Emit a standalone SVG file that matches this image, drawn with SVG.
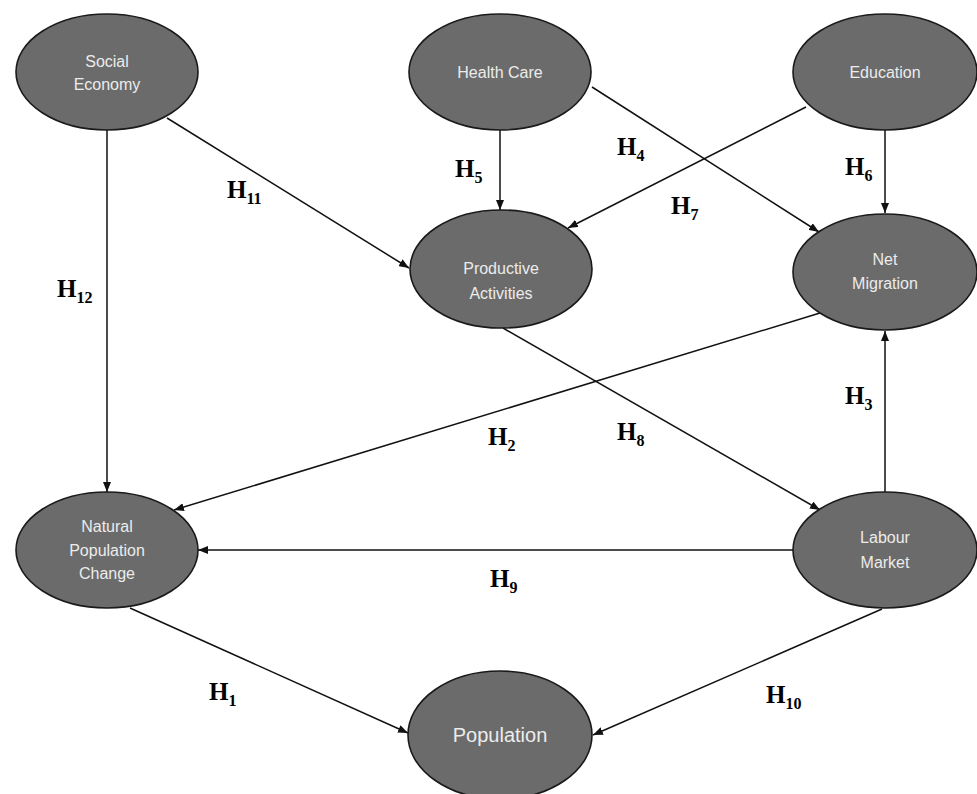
<svg xmlns="http://www.w3.org/2000/svg" width="977" height="794" viewBox="0 0 977 794">
<defs>
<marker id="ah" viewBox="0 0 10 8" refX="10" refY="4" markerWidth="10" markerHeight="8" markerUnits="userSpaceOnUse" orient="auto">
<path d="M0,0 L10,4 L0,8 z" fill="#111"/>
</marker>
<style>
.node{fill:#6b6b6b;stroke:#1a1a1a;stroke-width:1.6}
.nt{font-family:"Liberation Sans",Arial,sans-serif;font-size:16px;fill:#ececec;text-anchor:middle}
.pt{font-size:20px}
.c{stroke:#111;stroke-width:1.5;fill:none;marker-end:url(#ah)}
.h{font-family:"Liberation Serif","Times New Roman",serif;font-weight:bold;font-size:25px;fill:#000}
.s{font-size:16px}
</style>
</defs>
<rect width="977" height="794" fill="#fff"/>
<g id="connectors">
<line class="c" x1="107" y1="130" x2="107" y2="492"/>
<line class="c" x1="167" y1="118" x2="409" y2="268"/>
<line class="c" x1="500" y1="130" x2="500" y2="210"/>
<line class="c" x1="592" y1="87" x2="819" y2="232"/>
<line class="c" x1="806" y1="107" x2="568" y2="228"/>
<line class="c" x1="885" y1="130" x2="885" y2="213"/>
<line class="c" x1="820" y1="313" x2="174" y2="510"/>
<line class="c" x1="503" y1="328" x2="820" y2="510"/>
<line class="c" x1="885" y1="492" x2="885" y2="331"/>
<line class="c" x1="793" y1="550" x2="198" y2="550"/>
<line class="c" x1="130" y1="608" x2="408" y2="733"/>
<line class="c" x1="882" y1="609" x2="593" y2="735"/>
</g>
<g id="labels">
<text class="h" x="227" y="198">H<tspan class="s" dy="6">11</tspan></text>
<text class="h" x="57" y="297">H<tspan class="s" dy="6">12</tspan></text>
<text class="h" x="455" y="177">H<tspan class="s" dy="6">5</tspan></text>
<text class="h" x="617" y="155">H<tspan class="s" dy="6">4</tspan></text>
<text class="h" x="671" y="214">H<tspan class="s" dy="6">7</tspan></text>
<text class="h" x="845" y="175">H<tspan class="s" dy="6">6</tspan></text>
<text class="h" x="488" y="445">H<tspan class="s" dy="6">2</tspan></text>
<text class="h" x="617" y="440">H<tspan class="s" dy="6">8</tspan></text>
<text class="h" x="845" y="404">H<tspan class="s" dy="6">3</tspan></text>
<text class="h" x="490" y="587">H<tspan class="s" dy="6">9</tspan></text>
<text class="h" x="209" y="700">H<tspan class="s" dy="6">1</tspan></text>
<text class="h" x="766" y="703">H<tspan class="s" dy="6">10</tspan></text>
</g>
<g id="social-economy">
<ellipse class="node" cx="107" cy="72" rx="91" ry="58"/>
<text class="nt" x="107" y="67">Social</text>
<text class="nt" x="107" y="90">Economy</text>
</g>
<g id="health-care">
<ellipse class="node" cx="500" cy="72" rx="91" ry="58"/>
<text class="nt" x="500" y="78">Health Care</text>
</g>
<g id="education">
<ellipse class="node" cx="885" cy="72" rx="92" ry="58"/>
<text class="nt" x="885" y="78">Education</text>
</g>
<g id="productive-activities">
<ellipse class="node" cx="501" cy="269" rx="91" ry="59"/>
<text class="nt" x="501" y="274">Productive</text>
<text class="nt" x="501" y="299">Activities</text>
</g>
<g id="net-migration">
<ellipse class="node" cx="885" cy="272" rx="92" ry="58"/>
<text class="nt" x="885" y="265">Net</text>
<text class="nt" x="885" y="289">Migration</text>
</g>
<g id="natural-population-change">
<ellipse class="node" cx="107" cy="550" rx="91" ry="58"/>
<text class="nt" x="107" y="532">Natural</text>
<text class="nt" x="107" y="556">Population</text>
<text class="nt" x="107" y="579">Change</text>
</g>
<g id="labour-market">
<ellipse class="node" cx="885" cy="550" rx="92" ry="58"/>
<text class="nt" x="885" y="543">Labour</text>
<text class="nt" x="885" y="568">Market</text>
</g>
<g id="population">
<ellipse class="node" cx="500" cy="735" rx="92" ry="64"/>
<text class="nt pt" x="500" y="742">Population</text>
</g>
</svg>
